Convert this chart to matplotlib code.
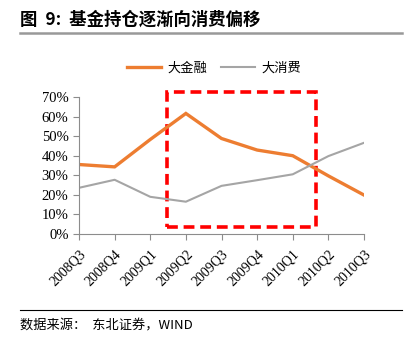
import matplotlib
matplotlib.use("Agg")
import matplotlib.pyplot as plt
from matplotlib.patches import Rectangle
from matplotlib.lines import Line2D

plt.rcParams['font.family'] = 'serif'
plt.rcParams['font.serif'] = ['Liberation Serif', 'DejaVu Serif']

quarters = ["2008Q3", "2008Q4", "2009Q1", "2009Q2", "2009Q3",
            "2009Q4", "2010Q1", "2010Q2", "2010Q3"]
finance = [35.5, 34.3, 48.3, 61.6, 48.8, 42.9, 40.0, 29.7, 19.9]
consumer = [23.6, 27.7, 19.0, 16.5, 24.6, 27.5, 30.5, 39.8, 46.6]
yticks = [0, 10, 20, 30, 40, 50, 60, 70]

orange = "#ED7D31"
grey = "#A5A5A5"
cjk = ['Noto Sans CJK SC', 'DejaVu Sans']

fig = plt.figure(figsize=(4.12, 3.43), dpi=100)
ax = fig.add_axes([79 / 412, 1 - 234 / 343, (364 - 79) / 412, (234 - 97) / 343])

x = list(range(len(quarters)))
ax.plot(x, finance, color=orange, lw=2.4, solid_joinstyle="miter")
ax.plot(x, consumer, color=grey, lw=1.5)

ax.set_xlim(0, len(quarters) - 1)
ax.set_ylim(0, 70)
ax.set_yticks(yticks)
ax.set_yticklabels([f"{v}%" for v in yticks], fontsize=10.5, family='Liberation Serif')
ax.set_xticks(x)
ax.set_xticklabels(quarters, rotation=45, ha="right", rotation_mode="anchor",
                   fontsize=10, family='Liberation Serif')
for s in ["top", "right"]:
    ax.spines[s].set_visible(False)
for s in ["left", "bottom"]:
    ax.spines[s].set_color("#8c8c8c")
ax.tick_params(colors="#8c8c8c", labelcolor="black", length=4, width=0.8)
ax.tick_params(axis="x", pad=6)

# highlight box around the shift period
box = Rectangle((2.47, 3.7), 4.19, 68.7, fill=False, ec="#FF0000", lw=2.6,
                ls=(0, (3, 1.6)), clip_on=False)
ax.add_patch(box)

# legend
handles = [Line2D([], [], color=orange, lw=2.4), Line2D([], [], color=grey, lw=1.5)]
leg = fig.legend(handles, ["大金融", "大消费"], loc="center", bbox_to_anchor=(214 / 412, 1 - 68 / 343),
                 ncol=2, frameon=False, prop={'family': cjk, 'size': 9.5},
                 handlelength=2.6, columnspacing=1.0, handletextpad=0.5)

# title and rules
fig.text(20 / 412, 1 - 20 / 343, "图  9:  基金持仓逐渐向消费偏移", family=cjk, fontsize=12.5,
         fontweight="bold", va="center", ha="left")
fig.add_artist(Line2D([20 / 412, 402 / 412], [1 - 33 / 343] * 2, color="#999999", lw=1.8))
fig.add_artist(Line2D([20 / 412, 402 / 412], [1 - 310 / 343] * 2, color="black", lw=0.8))
fig.text(20 / 412, 1 - 326 / 343, "数据来源：  东北证券，WIND", family=['Noto Sans CJK SC', 'Liberation Serif'],
         fontsize=9.5, va="center", ha="left")

fig.savefig("out.png", dpi=100)
